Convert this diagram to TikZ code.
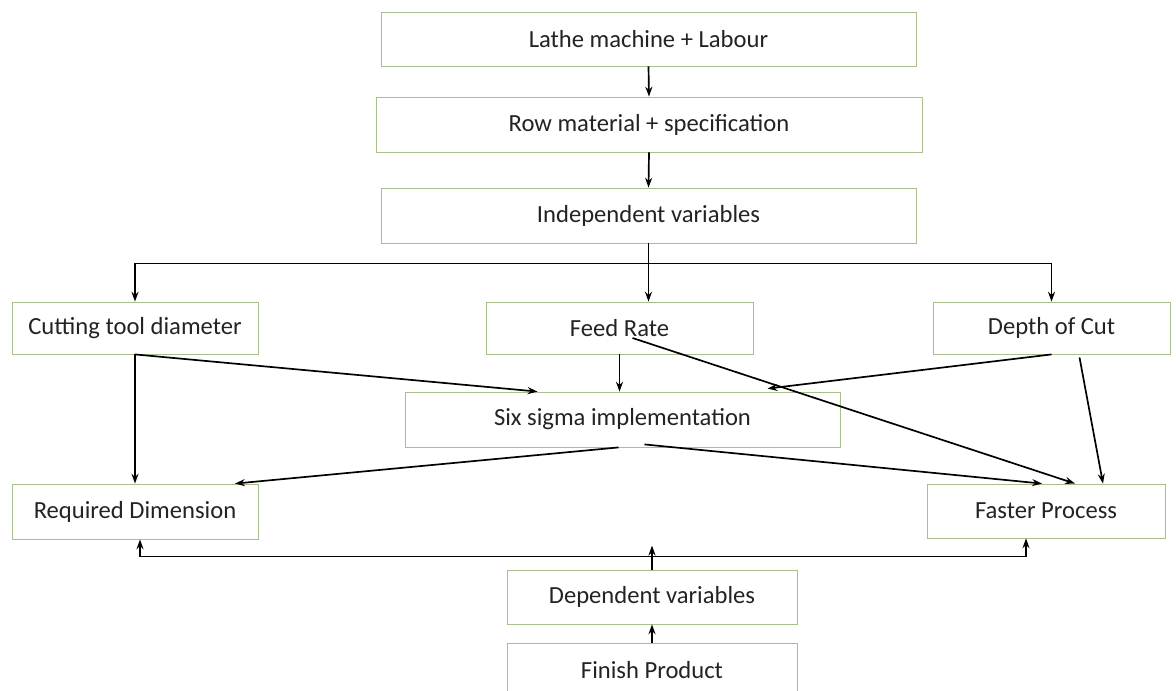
\documentclass[tikz,border=0pt]{standalone}
\usepackage{fontspec}
\setmainfont{Carlito}
\usepackage{tikz}
\usetikzlibrary{arrows.meta,positioning,calc}
\definecolor{boxgreen}{RGB}{168,190,140}
\definecolor{txtgray}{RGB}{35,35,35}
\newlength{\pxu}
\setlength{\pxu}{0.025cm}
\tikzstyle{block} = [draw=boxgreen, line width=0.6pt, fill=white, text=txtgray, inner sep=0pt, font=\fontsize{17.5}{21}\selectfont]
\tikzstyle{arrow} = [line width=1.2pt, -{Stealth[length=7pt,width=5pt]}]
\tikzstyle{link} = [line width=1.2pt]

\begin{document}
\begin{tikzpicture}[x=0.025cm, y=-0.025cm]
    \clip (0,0) rectangle (1176,690);
    \fill[white] (0,0) rectangle (1176,690);

    % Top chain
    \node[block, minimum width=535\pxu, minimum height=54\pxu] (lathe) at (648.5,39) {Lathe machine + Labour};
    \node[block, minimum width=546\pxu, minimum height=55\pxu] (row) at (649,124.5) {Row material + specification};
    \node[block, minimum width=535\pxu, minimum height=55\pxu] (indep) at (648.5,215.5) {Independent variables};

    % Independent variables
    \node[block, minimum width=246\pxu, minimum height=52\pxu] (cut) at (135,328) {Cutting tool diameter};
    \node[block, minimum width=267\pxu, minimum height=52\pxu] (feed) at (619.5,328) {Feed Rate};
    \node[block, minimum width=237\pxu, minimum height=52\pxu] (depth) at (1051.5,328) {Depth of Cut};

    % Six sigma
    \node[block, minimum width=435\pxu, minimum height=55\pxu] (six) at (622.5,419.5) {Six sigma implementation};

    % Results
    \node[block, minimum width=246\pxu, minimum height=55\pxu] (req) at (135,511.5) {Required Dimension};
    \node[block, minimum width=238\pxu, minimum height=54\pxu] (fast) at (1046,511) {Faster Process};

    % Bottom chain
    \node[block, minimum width=290\pxu, minimum height=54\pxu] (dep) at (652,597) {Dependent variables};
    \node[block, minimum width=290\pxu, minimum height=54\pxu] (fin) at (652,670) {Finish Product};

    % Arrows down the top
    \draw[arrow] (lathe.south) -- (row.north);
    \draw[arrow] (row.south) -- (indep.north);
    \draw[arrow] (indep.south) -- (indep.south |- feed.north);

    % Split to the three inputs
    \coordinate (split) at ($(indep.south)+(0,20)$);
    \draw[link] (split -| cut.north) -- (split -| depth.north);
    \draw[arrow] (split -| cut.north) -- (cut.north);
    \draw[arrow] (split -| depth.north) -- (depth.north);

    % Inputs to six sigma and results
    \draw[arrow] (cut.south) -- (req.north);
    \draw[arrow] (cut.south) -- ($(six.north)+(-85,0)$);
    \draw[arrow] (feed.south) -- (feed.south |- six.north);
    \draw[arrow] ($(feed.center)+(13,10)$) -- ($(fast.north)+(29,0)$);
    \draw[arrow] (depth.south) -- ($(six.north)+(145,-3)$);
    \draw[arrow] ($(depth.south)+(28,3)$) -- ($(fast.north)+(57,0)$);
    \draw[arrow] ($(six.south)+(-4,0)$) -- ($(req.north)+(100,0)$);
    \draw[arrow] ($(six.south)+(22,-3)$) -- ($(fast.north)+(-4,0)$);

    % Dependent variables feed back up
    \coordinate (join) at ($(dep.north)+(0,-13)$);
    \coordinate (rq) at ($(req.south)+(5,0)$);
    \coordinate (fp) at ($(fast.south)+(-20,0)$);
    \draw[link] (join -| rq) -- (join -| fp);
    \draw[arrow] (join -| rq) -- (rq);
    \draw[arrow] (join -| fp) -- (fp);
    \draw[arrow] (dep.north) -- ++(0,-24);
    \draw[arrow] (fin.north) -- (dep.south);
\end{tikzpicture}
\end{document}
